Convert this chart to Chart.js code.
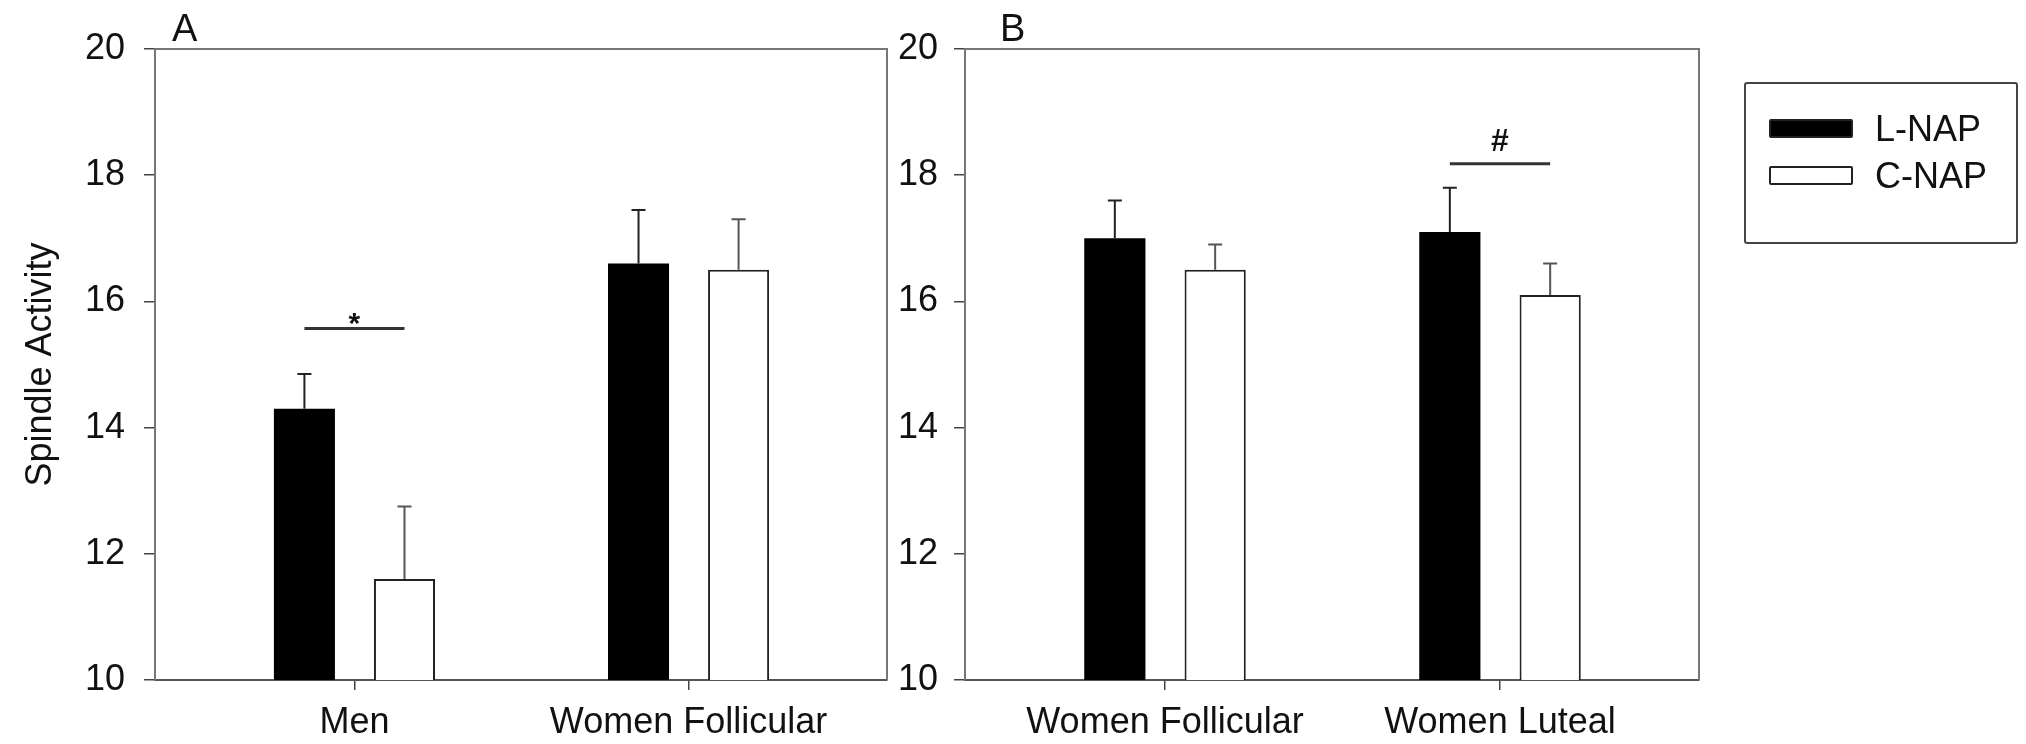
<!DOCTYPE html>
<html>
<head>
<meta charset="utf-8">
<script src="https://cdn.jsdelivr.net/npm/chart.js@4.4.0/dist/chart.umd.min.js"></script>
<style>
  body { margin: 0; background: #fff; width: 2026px; height: 744px; position: relative; overflow: hidden; font-family: "Liberation Sans", Arial, sans-serif; }
  canvas { position: absolute; top: 0; }
  #chartA { left: 0; }
  #chartB { left: 880px; }
  #legend { position: absolute; left: 1744px; top: 82px; width: 270px; height: 137px; border: 2px solid #444; border-radius: 3px; padding-top: 21px; box-sizing: content-box; }
  #legend .row { display: flex; align-items: center; height: 47px; }
  #legend .sw { width: 84px; height: 19px; margin-left: 23px; box-sizing: border-box; border: 2px solid #222; border-radius: 2px; }
  #legend .lbl { margin-left: 22px; font-size: 36px; color: #111; }
</style>
</head>
<body>
<canvas id="chartA" width="900" height="744"></canvas>
<canvas id="chartB" width="1146" height="744"></canvas>
<div id="legend"></div>
<script>
// valores (média e erro padrão)
const categoriesA = ["Men", "Women Follicular"];
const categoriesB = ["Women Follicular", "Women Luteal"];
const seriesNames = ["L-NAP", "C-NAP"];
const seriesColors = ["#000000", "#ffffff"];

const lnapA = [14.3, 16.6];
const lnapSemA = [0.55, 0.85];
const cnapA = [11.6, 16.5];
const cnapSemA = [1.15, 0.8];

const lnapB = [17.0, 17.1];
const lnapSemB = [0.6, 0.7];
const cnapB = [16.5, 16.1];
const cnapSemB = [0.4, 0.5];

const yTicks = [10, 12, 14, 16, 18, 20];

const sigA = { index: 0, value: 15.57, mark: "*" };
const sigB = { index: 1, value: 18.18, mark: "#" };

const FONT = "'Liberation Sans', Arial, sans-serif";
const INK = "#111";

// barras de erro, moldura, marcas de significância e letra do painel
const extras = {
  id: "extras",
  afterDatasetsDraw(chart, args, opts) {
    const ctx = chart.ctx;
    const yScale = chart.scales.y;
    const area = chart.chartArea;
    ctx.save();

    chart.data.datasets.forEach((ds, di) => {
      const meta = chart.getDatasetMeta(di);
      meta.data.forEach((bar, i) => {
        const top = yScale.getPixelForValue(ds.data[i].y + ds.errors[i]);
        ctx.strokeStyle = ds.errorColor;
        ctx.lineWidth = 2;
        ctx.beginPath();
        ctx.moveTo(bar.x, bar.y);
        ctx.lineTo(bar.x, top);
        ctx.moveTo(bar.x - 7, top);
        ctx.lineTo(bar.x + 7, top);
        ctx.stroke();
      });
    });

    // moldura superior e direita
    ctx.strokeStyle = "#777";
    ctx.lineWidth = 2;
    ctx.beginPath();
    ctx.moveTo(area.left, area.top);
    ctx.lineTo(area.right, area.top);
    ctx.lineTo(area.right, area.bottom);
    ctx.stroke();

    // significância
    const s = opts.sig;
    const b0 = chart.getDatasetMeta(0).data[s.index];
    const b1 = chart.getDatasetMeta(1).data[s.index];
    const ly = yScale.getPixelForValue(s.value);
    ctx.strokeStyle = "#333";
    ctx.lineWidth = 3;
    ctx.beginPath();
    ctx.moveTo(b0.x, ly);
    ctx.lineTo(b1.x, ly);
    ctx.stroke();
    ctx.fillStyle = INK;
    ctx.textAlign = "center";
    ctx.textBaseline = "alphabetic";
    ctx.font = "bold " + opts.markSize + "px " + FONT;
    ctx.fillText(s.mark, (b0.x + b1.x) / 2, ly + opts.markDy);

    // letra do painel
    ctx.textAlign = "left";
    ctx.font = "38px " + FONT;
    ctx.fillText(opts.letter, area.left + opts.letterDx, area.top - 8);
    ctx.restore();
  }
};

function makeChart(id, categories, lnap, lnapSem, cnap, cnapSem, cfg) {
  const ctx = document.getElementById(id).getContext("2d");
  return new Chart(ctx, {
    type: "bar",
    data: {
      datasets: [
        {
          label: seriesNames[0],
          data: lnap.map((v, i) => ({ x: i, y: v })),
          errors: lnapSem,
          errorColor: "#222",
          backgroundColor: seriesColors[0],
          borderColor: "#000",
          borderWidth: 0,
          categoryPercentage: 0.599,
          barPercentage: 0.61
        },
        {
          label: seriesNames[1],
          data: cnap.map((v, i) => ({ x: i, y: v })),
          errors: cnapSem,
          errorColor: "#555",
          backgroundColor: seriesColors[1],
          borderColor: "#222",
          borderWidth: 2,
          categoryPercentage: 0.599,
          barPercentage: 0.61
        }
      ]
    },
    options: {
      responsive: false,
      animation: false,
      devicePixelRatio: 1,
      layout: { padding: { top: 49, right: cfg.padRight, bottom: 0, left: 0 } },
      scales: {
        x: {
          type: "linear",
          min: -0.597,
          max: 1.594,
          offset: false,
          afterBuildTicks: (scale) => { scale.ticks = categories.map((c, i) => ({ value: i })); },
          afterFit: (scale) => { scale.height = 64; },
          ticks: {
            callback: (v) => categories[v],
            autoSkip: false,
            maxRotation: 0,
            padding: 11,
            color: INK,
            font: { family: FONT, size: 36 }
          },
          grid: { offset: false, drawOnChartArea: false, drawTicks: true, tickLength: 10, color: "#444", lineWidth: 1.5 },
          border: { display: true, color: "#555", width: 2 }
        },
        y: {
          min: 10,
          max: 20,
          afterBuildTicks: (scale) => { scale.ticks = yTicks.map(v => ({ value: v })); },
          afterFit: (scale) => { scale.width = cfg.axisWidth; },
          ticks: {
            padding: cfg.tickPad,
            color: INK,
            font: { family: FONT, size: 36 }
          },
          grid: { drawOnChartArea: false, drawTicks: true, tickLength: 11, color: "#444", lineWidth: 1.5 },
          border: { display: true, color: "#777", width: 2 },
          title: {
            display: cfg.title !== "",
            text: cfg.title,
            color: INK,
            font: { family: FONT, size: 36 },
            padding: { top: 19, bottom: 0 }
          }
        }
      },
      plugins: {
        legend: { display: false },
        tooltip: { enabled: false },
        extras: cfg.extras
      }
    },
    plugins: [extras]
  });
}

makeChart("chartA", categoriesA, lnapA, lnapSemA, cnapA, cnapSemA, {
  padRight: 13, axisWidth: 155, tickPad: 19, title: "Spindle Activity",
  extras: { sig: sigA, letter: "A", letterDx: 17, markSize: 30, markDy: 4 }
});

makeChart("chartB", categoriesB, lnapB, lnapSemB, cnapB, cnapSemB, {
  padRight: 327, axisWidth: 85, tickPad: 16, title: "",
  extras: { sig: sigB, letter: "B", letterDx: 35, markSize: 32, markDy: -13 }
});

// legenda
const legendEl = document.getElementById("legend");
seriesNames.forEach((name, i) => {
  const row = document.createElement("div");
  row.className = "row";
  row.innerHTML = `<span class="sw" style="background:${seriesColors[i]}"></span><span class="lbl">${name}</span>`;
  legendEl.appendChild(row);
});
</script>
</body>
</html>
